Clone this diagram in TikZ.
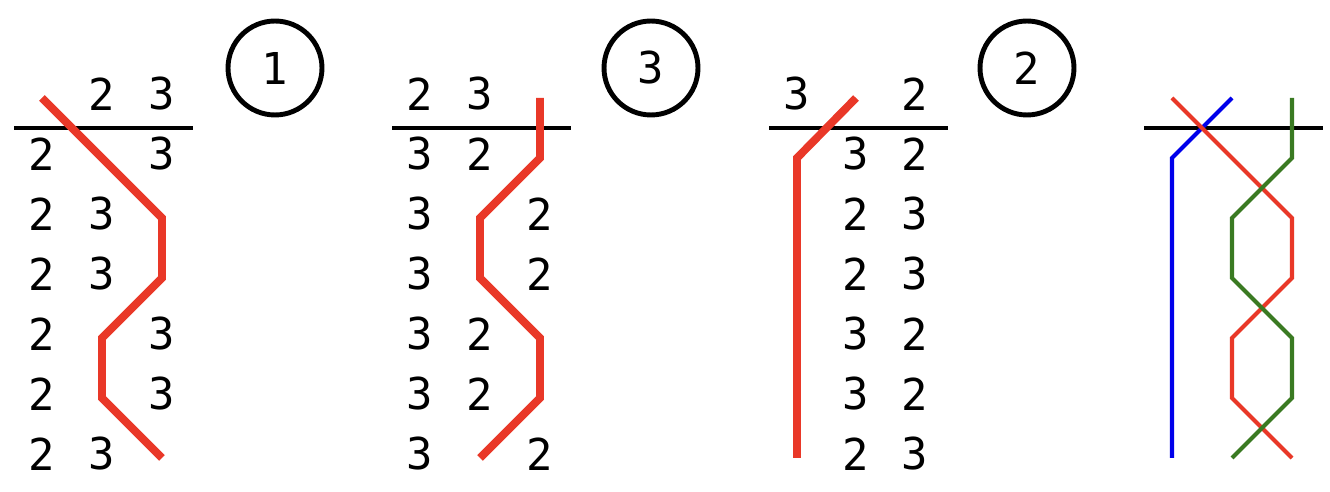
\documentclass[tikz,border=0pt]{standalone}
\usepackage{fontspec}
\setmonofont{DejaVu Sans Mono}
\definecolor{strandred}{RGB}{233,56,40}
\definecolor{strandblue}{RGB}{0,0,235}
\definecolor{strandgreen}{RGB}{58,122,34}
\begin{document}
\begin{tikzpicture}[x=0.02cm,y=-0.02cm,
	digit/.style={font=\ttfamily\fontsize{25}{25}\selectfont,inner sep=0pt},
	badge/.style={draw,circle,line width=2.8pt,minimum size=1.88cm,inner sep=0pt,font=\ttfamily\fontsize{25}{25}\selectfont},
	rule/.style={line width=2.3pt},
	thick strand/.style={strandred,line width=4.5pt},
	thin strand/.style={line width=2.3pt}]
	\useasboundingbox (0,0) rectangle (1330,492);
	% horizontal rules
	\foreach \x in {42,420,797,1172}
		\draw[rule] (\x-28,128)--(\x+151,128);
	% digits of the first three panels
	\foreach \c/\r/\d in {2/0/2,3/0/3,1/1/2,3/1/3,1/2/2,2/2/3,1/3/2,2/3/3,1/4/2,3/4/3,1/5/2,3/5/3,1/6/2,2/6/3}
		\node[digit] (a-\c-\r) at ({42+60*(\c-1)},{94+60*\r}) {\d};
	\foreach \c/\r/\d in {1/0/2,2/0/3,1/1/3,2/1/2,1/2/3,3/2/2,1/3/3,3/3/2,1/4/3,2/4/2,1/5/3,2/5/2,1/6/3,3/6/2}
		\node[digit] (b-\c-\r) at ({420+60*(\c-1)},{94+60*\r}) {\d};
	\foreach \c/\r/\d in {1/0/3,3/0/2,2/1/3,3/1/2,2/2/2,3/2/3,2/3/2,3/3/3,2/4/3,3/4/2,2/5/3,3/5/2,2/6/2,3/6/3}
		\node[digit] (c-\c-\r) at ({797+59*(\c-1)},{94+60*\r}) {\d};
	% circled step numbers
	\node[badge] (n1) at (275,68) {1};
	\node[badge] (n3) at (651,68) {3};
	\node[badge] (n2) at (1027,68) {2};
	% strands
	\draw[thick strand] (42,98)--(162,218)--(162,278)--(102,338)--(102,398)--(162,458);
	\draw[thick strand] (540,98)--(540,158)--(480,218)--(480,278)--(540,338)--(540,398)--(480,458);
	\draw[thick strand] (856,98)--(797,158)--(797,458);
	\draw[thin strand,strandblue] (1232,98)--(1172,158)--(1172,458);
	\draw[thin strand,strandred] (1172,98)--(1292,218)--(1292,278)--(1232,338)--(1232,398)--(1292,458);
	\draw[thin strand,strandgreen] (1292,98)--(1292,158)--(1232,218)--(1232,278)--(1292,338)--(1292,398)--(1232,458);
\end{tikzpicture}
\end{document}
